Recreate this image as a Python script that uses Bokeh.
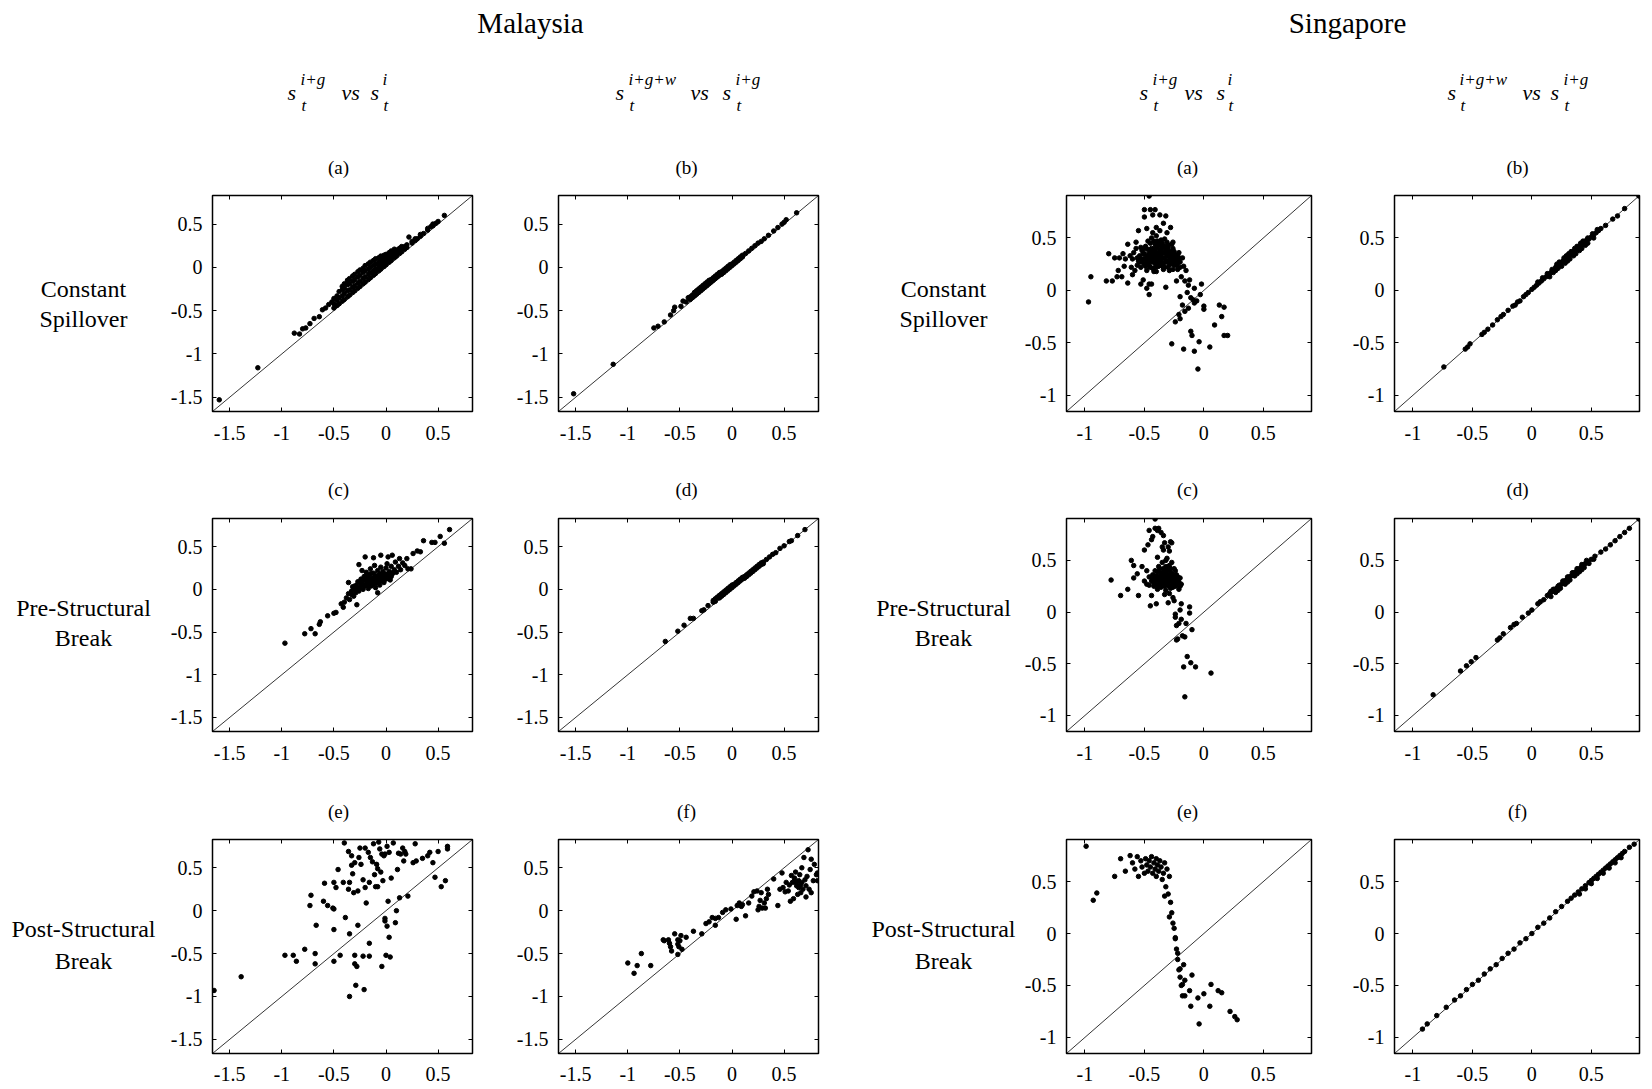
from bokeh.plotting import figure
from bokeh.layouts import column, row
from bokeh.models import Range1d, FixedTicker, CustomJSTickFormatter, Slope, LinearAxis
from bokeh.core.properties import value
from bokeh.embed import file_html
from bokeh.resources import INLINE

# ---------------- data ----------------
COUNTRIES = ["Malaysia", "Singapore"]
ROW_LABELS = [["Constant", "Spillover"], ["Pre-Structural", "Break"], ["Post-Structural", "Break"]]
LETTERS = [["(a)", "(b)"], ["(c)", "(d)"], ["(e)", "(f)"]]
SUP_A = ["i+g", "i"]
SUP_B = ["i+g+w", "i+g"]
MY_TICKS = [-1.5, -1, -0.5, 0, 0.5]
SG_TICKS = [-1, -0.5, 0, 0.5]
MY_RANGE = (-1.665, 0.83)
SG_RANGE = (-1.155, 0.905)

MY_A = [(-1.60,-1.53),(-1.23,-1.16),(-0.88,-0.76),(-0.83,-0.77),(-0.80,-0.71),(-0.77,-0.70),(-0.73,-0.65),(-0.69,-0.59),(-0.64,-0.57),(-0.61,-0.49),(-0.58,-0.47),(-0.55,-0.43),(-0.52,-0.40),
(-0.50,-0.47),(-0.50,-0.42),(-0.50,-0.36),(-0.47,-0.44),(-0.47,-0.38),(-0.47,-0.33),(-0.45,-0.42),(-0.45,-0.35),(-0.45,-0.28),
(-0.42,-0.39),(-0.42,-0.33),(-0.42,-0.26),(-0.42,-0.22),(-0.40,-0.37),(-0.40,-0.30),(-0.40,-0.24),(-0.40,-0.19),
(-0.37,-0.34),(-0.37,-0.27),(-0.37,-0.20),(-0.37,-0.15),(-0.35,-0.32),(-0.35,-0.26),(-0.35,-0.19),(-0.35,-0.13),
(-0.32,-0.29),(-0.32,-0.23),(-0.32,-0.16),(-0.32,-0.10),(-0.30,-0.27),(-0.30,-0.21),(-0.30,-0.14),(-0.30,-0.08),
(-0.27,-0.24),(-0.27,-0.18),(-0.27,-0.11),(-0.27,-0.05),(-0.25,-0.22),(-0.25,-0.16),(-0.25,-0.09),(-0.25,-0.03),
(-0.22,-0.19),(-0.22,-0.13),(-0.22,-0.06),(-0.22,-0.01),(-0.20,-0.17),(-0.20,-0.11),(-0.20,-0.04),(-0.20,0.02),
(-0.17,-0.14),(-0.17,-0.08),(-0.17,-0.02),(-0.17,0.04),(-0.15,-0.12),(-0.15,-0.06),(-0.15,0.00),(-0.15,0.06),
(-0.12,-0.09),(-0.12,-0.04),(-0.12,0.02),(-0.12,0.08),(-0.10,-0.07),(-0.10,-0.02),(-0.10,0.04),(-0.10,0.10),
(-0.07,-0.04),(-0.07,0.01),(-0.07,0.06),(-0.07,0.11),(-0.05,-0.02),(-0.05,0.03),(-0.05,0.08),(-0.05,0.13),
(-0.02,0.01),(-0.02,0.05),(-0.02,0.10),(-0.02,0.14),(0.00,0.03),(0.00,0.07),(0.00,0.11),(0.00,0.15),
(0.03,0.06),(0.03,0.10),(0.03,0.14),(0.03,0.17),(0.05,0.08),(0.05,0.12),(0.05,0.16),(0.05,0.19),
(0.08,0.11),(0.08,0.14),(0.08,0.18),(0.08,0.21),(0.10,0.13),(0.10,0.16),(0.10,0.20),
(0.13,0.16),(0.13,0.19),(0.13,0.22),(0.15,0.18),(0.15,0.21),(0.15,0.24),
(0.18,0.21),(0.18,0.24),(0.20,0.23),(0.20,0.26),(0.22,0.35),
(0.25,0.28),(0.25,0.30),(0.28,0.31),(0.28,0.33),(0.30,0.33),(0.33,0.36),(0.33,0.38),(0.36,0.39),
(0.40,0.43),(0.40,0.45),(0.43,0.47),(0.45,0.48),(0.45,0.50),(0.48,0.51),(0.50,0.53),(0.56,0.60)]

MY_B = [(-1.52,-1.46),(-1.14,-1.12),(-0.75,-0.70),(-0.71,-0.68),(-0.65,-0.63),(-0.59,-0.55),(-0.56,-0.50),(-0.55,-0.46),(-0.49,-0.45),(-0.47,-0.39),(-0.44,-0.40),(-0.42,-0.35),
(-0.40,-0.34),(-0.40,-0.37),(-0.38,-0.32),(-0.38,-0.35),(-0.36,-0.29),(-0.36,-0.33),(-0.34,-0.27),(-0.34,-0.31),(-0.32,-0.25),(-0.32,-0.29),(-0.30,-0.23),(-0.30,-0.27),
(-0.28,-0.21),(-0.28,-0.25),(-0.26,-0.19),(-0.26,-0.23),(-0.24,-0.17),(-0.24,-0.21),(-0.22,-0.15),(-0.22,-0.19),(-0.20,-0.14),(-0.20,-0.17),(-0.18,-0.12),(-0.18,-0.15),
(-0.16,-0.10),(-0.16,-0.13),(-0.14,-0.08),(-0.14,-0.11),(-0.12,-0.06),(-0.12,-0.09),(-0.10,-0.05),(-0.10,-0.08),(-0.08,-0.03),(-0.08,-0.06),(-0.06,-0.01),(-0.06,-0.04),
(-0.04,0.01),(-0.04,-0.02),(-0.02,0.03),(-0.02,0.00),(0.00,0.04),(0.00,0.02),(0.02,0.06),(0.02,0.04),(0.04,0.08),(0.04,0.06),(0.06,0.10),(0.06,0.08),(0.08,0.12),(0.08,0.10),
(0.10,0.14),(0.10,0.12),(0.13,0.16),(0.16,0.19),(0.19,0.22),(0.22,0.25),(0.25,0.28),(0.28,0.30),(0.31,0.33),(0.35,0.37),(0.40,0.42),(0.44,0.46),(0.48,0.50),(0.50,0.52),(0.52,0.55),(0.62,0.63)]

MY_C = [(-0.97,-0.63),(-0.78,-0.52),(-0.72,-0.46),(-0.68,-0.52),(-0.64,-0.41),(-0.63,-0.38),(-0.56,-0.31),(-0.50,-0.28),(-0.48,-0.27),(-0.43,-0.17),(-0.41,-0.21),
(-0.40,-0.15),(-0.38,-0.10),(-0.36,-0.05),(-0.35,-0.12),(-0.33,-0.02),(-0.32,0.03),(-0.31,-0.08),(-0.30,0.00),(-0.29,-0.04),(-0.28,0.05),(-0.27,0.09),(-0.26,-0.02),
(-0.25,0.02),(-0.24,0.12),(-0.23,0.06),(-0.22,0.00),(-0.21,0.15),(-0.20,0.10),(-0.20,0.04),(-0.19,0.20),(-0.18,0.07),(-0.17,0.13),(-0.17,0.01),(-0.16,0.17),
(-0.15,0.09),(-0.15,0.24),(-0.14,0.04),(-0.13,0.13),(-0.12,0.19),(-0.12,0.07),(-0.11,0.28),(-0.10,0.11),(-0.10,0.02),(-0.09,0.16),(-0.08,0.22),(-0.08,0.08),
(-0.07,0.13),(-0.06,0.18),(-0.06,0.05),(-0.05,0.26),(-0.04,0.11),(-0.03,0.15),(-0.03,0.21),(-0.02,0.08),(-0.01,0.18),(0.00,0.12),(0.00,0.25),(0.01,0.30),
(0.02,0.16),(0.03,0.21),(0.04,0.11),(0.05,0.27),(0.06,0.18),(0.08,0.23),(0.09,0.32),(0.10,0.20),(0.12,0.27),(0.14,0.23),(0.16,0.31),(0.18,0.28),(0.20,0.36),(0.21,0.24),
(-0.20,0.38),(-0.12,0.37),(-0.05,0.40),(0.02,0.38),(0.06,0.40),(0.13,0.36),(-0.26,0.29),(-0.23,0.22),(-0.36,0.08),(-0.28,-0.18),(-0.33,-0.06),(-0.08,-0.04),
(-0.30,0.04),(-0.27,0.01),(-0.24,0.07),(-0.21,0.05),(-0.18,0.11),(-0.16,0.05),(-0.14,0.12),(-0.13,0.07),(-0.11,0.14),(-0.10,0.07),(-0.09,0.12),(-0.07,0.09),
(-0.06,0.15),(-0.05,0.10),(-0.04,0.17),(-0.02,0.12),(0.00,0.17),(0.02,0.13),(0.03,0.18),(0.05,0.15),(0.07,0.20),(-0.19,0.15),(-0.23,0.10),(-0.14,0.19),
(0.24,0.24),(0.30,0.45),(0.26,0.42),(0.33,0.44),(0.36,0.57),(0.44,0.55),(0.47,0.55),(0.52,0.62),(0.56,0.54),(0.61,0.70)]

MY_D = [(-0.64,-0.61),(-0.52,-0.49),(-0.46,-0.42),(-0.40,-0.34),(-0.37,-0.34),(-0.29,-0.25),(-0.27,-0.24),(-0.23,-0.19),
(-0.18,-0.13),(-0.18,-0.15),(-0.16,-0.11),(-0.16,-0.14),(-0.14,-0.09),(-0.12,-0.07),(-0.12,-0.10),(-0.10,-0.05),(-0.10,-0.08),(-0.08,-0.03),(-0.08,-0.06),
(-0.06,-0.01),(-0.06,-0.04),(-0.04,0.01),(-0.04,-0.02),(-0.02,0.03),(-0.02,0.00),(0.00,0.05),(0.00,0.02),(0.02,0.06),(0.02,0.04),(0.04,0.08),(0.04,0.06),
(0.06,0.10),(0.06,0.08),(0.08,0.12),(0.08,0.10),(0.10,0.14),(0.10,0.12),(0.12,0.15),(0.12,0.13),(0.14,0.17),(0.14,0.15),(0.16,0.19),(0.16,0.17),
(0.18,0.21),(0.18,0.19),(0.20,0.23),(0.20,0.21),(0.22,0.25),(0.22,0.23),(0.24,0.27),(0.24,0.25),(0.26,0.29),(0.26,0.27),(0.28,0.31),(0.28,0.29),
(0.30,0.32),(0.30,0.30),(0.33,0.35),(0.36,0.38),(0.39,0.41),(0.42,0.43),(0.46,0.48),(0.50,0.51),(0.55,0.56),(0.57,0.57),(0.63,0.63),(0.70,0.70)]

MY_E = [(-1.39,-0.77),(-1.65,-0.93),(-0.97,-0.52),(-0.89,-0.52),(-0.86,-0.59),(-0.78,-0.45),(-0.68,-0.50),(-0.68,-0.62),(-0.72,0.18),(-0.73,0.06),
(-0.67,-0.17),(-0.60,0.11),(-0.59,0.32),(-0.56,0.06),(-0.51,0.03),(-0.50,0.02),(-0.50,-0.22),(-0.50,-0.59),(-0.50,0.33),(-0.48,0.27),(-0.46,0.48),
(-0.44,-0.52),(-0.41,0.33),(-0.40,0.79),(-0.39,-0.08),(-0.36,0.25),(-0.36,0.69),(-0.35,0.33),(-0.35,-0.27),(-0.35,-1.00),(-0.33,0.64),(-0.33,0.53),
(-0.32,0.43),(-0.31,0.21),(-0.30,0.56),(-0.30,-0.52),(-0.30,-0.62),(-0.28,-0.65),(-0.29,-0.87),(-0.27,-0.17),(-0.27,0.23),(-0.26,0.62),(-0.25,0.73),
(-0.24,0.54),(-0.22,0.36),(-0.22,-0.53),(-0.21,-0.92),(-0.20,0.73),(-0.20,0.27),(-0.19,0.09),(-0.17,0.68),(-0.16,-0.38),(-0.16,-0.53),(-0.16,0.33),
(-0.15,0.62),(-0.13,0.57),(-0.12,0.78),(-0.11,0.42),(-0.10,0.28),(-0.09,0.54),(-0.08,0.28),(-0.08,0.49),(-0.07,0.80),(-0.06,0.72),(-0.05,0.45),
(-0.04,-0.65),(-0.04,0.66),(-0.03,0.35),(-0.02,0.64),(-0.01,-0.09),(-0.01,-0.12),(-0.01,0.66),(0.00,-0.52),(0.01,-0.18),(0.01,0.75),(0.02,0.11),
(0.03,-0.31),(0.03,0.68),(0.04,-0.54),(0.05,0.38),(0.07,0.79),(0.09,-0.14),(0.10,0.00),(0.11,0.48),(0.12,0.67),(0.13,0.15),(0.14,0.66),(0.16,0.73),
(0.17,0.58),(0.18,0.69),(0.19,0.66),(0.21,0.17),(0.26,0.56),(0.28,0.78),(0.29,0.58),(0.35,0.61),(0.40,0.64),(0.42,0.68),(0.45,0.56),(0.47,0.39),
(0.50,0.69),(0.53,0.28),(0.57,0.35),(0.59,0.75),(0.59,0.72)]

MY_F = [(-1.00,-0.61),(-0.94,-0.73),(-0.91,-0.64),(-0.87,-0.50),(-0.78,-0.64),(-0.66,-0.34),(-0.65,-0.35),(-0.61,-0.34),(-0.60,-0.38),(-0.59,-0.42),(-0.58,-0.47),
(-0.55,-0.27),(-0.52,-0.34),(-0.52,-0.39),(-0.51,-0.42),(-0.52,-0.51),(-0.50,-0.35),(-0.49,-0.29),(-0.48,-0.45),(-0.44,-0.31),(-0.37,-0.24),(-0.29,-0.27),
(-0.25,-0.15),(-0.22,-0.13),(-0.19,-0.08),(-0.16,-0.09),(-0.16,-0.17),(-0.13,-0.08),(-0.09,-0.02),(-0.06,0.01),(-0.01,0.02),(0.04,-0.10),(0.05,0.06),
(0.07,0.09),(0.09,0.05),(0.10,0.07),(0.13,-0.06),(0.16,0.09),(0.19,0.17),(0.21,0.22),(0.24,0.23),(0.25,0.01),(0.26,0.05),(0.27,0.12),(0.28,0.21),
(0.29,0.03),(0.31,0.09),(0.32,0.03),(0.33,0.14),(0.34,0.25),(0.35,0.19),(0.40,0.37),(0.44,0.06),(0.46,0.25),(0.48,0.44),(0.49,0.27),(0.51,0.22),
(0.52,0.33),(0.54,0.23),(0.56,0.11),(0.57,0.41),(0.59,0.14),(0.60,0.35),(0.60,0.38),(0.61,0.45),(0.62,0.29),(0.63,0.19),(0.64,0.35),(0.64,0.27),
(0.65,0.42),(0.66,0.21),(0.67,0.33),(0.67,0.50),(0.68,0.25),(0.69,0.62),(0.70,0.36),(0.71,0.16),(0.71,0.29),(0.72,0.40),(0.73,0.71),(0.74,0.25),
(0.75,0.48),(0.76,0.60),(0.76,0.21),(0.78,0.35),(0.79,0.54),(0.81,0.42),(0.82,0.35),(0.82,0.44),(0.55,0.30),(0.58,0.33),(0.62,0.32),(0.66,0.30)]

SG_A = [(-0.97,-0.11),(-0.95,0.13),(-0.82,0.09),(-0.80,0.35),(-0.77,0.09),(-0.75,0.31),(-0.73,0.13),(-0.72,0.19),(-0.71,0.31),(-0.69,0.13),(-0.68,0.35),
(-0.67,0.23),(-0.66,0.30),(-0.64,0.07),(-0.64,0.44),(-0.62,0.33),(-0.61,0.22),(-0.60,0.15),(-0.59,0.36),(-0.58,0.19),(-0.57,0.46),(-0.56,0.31),(-0.55,0.57),
(-0.54,0.27),(-0.53,0.41),(-0.53,0.06),(-0.51,0.10),(-0.50,0.70),(-0.50,0.77),(-0.49,0.23),(-0.48,0.59),(-0.48,0.02),(-0.47,0.47),(-0.46,0.06),(-0.46,0.90),
(-0.46,-0.04),(-0.45,0.77),(-0.44,0.31),(-0.44,0.06),(-0.43,0.72),(-0.43,0.55),(-0.42,0.18),(-0.41,0.39),(-0.41,0.77),(-0.40,0.60),(-0.39,0.23),(-0.39,0.47),
(-0.38,0.33),(-0.37,0.72),(-0.37,0.57),(-0.36,0.28),(-0.35,0.43),(-0.34,0.64),(-0.34,0.22),(-0.33,0.49),(-0.32,0.36),(-0.32,0.71),(-0.32,0.03),(-0.31,0.55),
(-0.30,0.27),(-0.30,0.41),(-0.29,0.19),(-0.28,0.60),(-0.27,0.31),(-0.27,-0.51),(-0.26,0.46),(-0.25,0.25),(-0.25,0.37),(-0.24,-0.30),(-0.23,0.09),(-0.22,0.20),
(-0.22,0.33),(-0.21,-0.23),(-0.20,0.27),(-0.20,-0.27),(-0.20,-0.06),(-0.19,0.13),(-0.18,0.31),(-0.18,-0.14),(-0.17,-0.56),(-0.17,0.23),(-0.16,0.09),
(-0.16,-0.20),(-0.15,0.19),(-0.14,-0.02),(-0.13,0.05),(-0.13,-0.17),(-0.12,0.10),(-0.11,-0.07),(-0.11,-0.39),(-0.10,-0.43),(-0.09,-0.09),(-0.08,0.02),
(-0.08,-0.58),(-0.08,-0.12),(-0.06,-0.10),(-0.05,-0.75),(-0.04,-0.49),(-0.03,-0.04),(-0.02,0.06),(0.00,-0.18),(0.00,-0.15),(0.05,-0.54),(0.09,-0.33),
(0.13,-0.14),(0.15,-0.25),(0.17,-0.16),(0.17,-0.43),(0.20,-0.43),
(-0.55,0.28),(-0.54,0.33),(-0.53,0.22),(-0.52,0.38),(-0.51,0.30),(-0.50,0.25),(-0.50,0.35),(-0.49,0.42),(-0.48,0.19),(-0.48,0.29),(-0.47,0.33),(-0.46,0.24),
(-0.45,0.38),(-0.45,0.45),(-0.44,0.28),(-0.43,0.21),(-0.43,0.34),(-0.42,0.40),(-0.41,0.26),(-0.40,0.31),(-0.40,0.18),(-0.39,0.36),(-0.38,0.44),(-0.38,0.23),
(-0.37,0.29),(-0.36,0.34),(-0.36,0.39),(-0.35,0.25),(-0.34,0.20),(-0.34,0.31),(-0.33,0.42),(-0.33,0.36),(-0.32,0.27),(-0.31,0.33),(-0.30,0.22),(-0.30,0.38),
(-0.29,0.29),(-0.28,0.35),(-0.28,0.25),(-0.27,0.31),(-0.26,0.20),(-0.26,0.40),(-0.25,0.28),(-0.24,0.34),(-0.23,0.24),(-0.22,0.30),(-0.21,0.36),(-0.20,0.22),
(-0.44,0.50),(-0.40,0.52),(-0.36,0.48),(-0.31,0.46),(-0.27,0.44),(-0.57,0.40),(-0.60,0.30),
(-0.56,0.24),(-0.53,0.30),(-0.52,0.27),(-0.51,0.35),(-0.49,0.26),(-0.49,0.31),(-0.47,0.27),(-0.47,0.39),(-0.46,0.30),(-0.46,0.35),(-0.45,0.22),(-0.44,0.33),
(-0.44,0.40),(-0.43,0.27),(-0.42,0.31),(-0.42,0.36),(-0.41,0.22),(-0.41,0.44),(-0.40,0.27),(-0.40,0.35),(-0.39,0.30),(-0.39,0.41),(-0.38,0.27),(-0.38,0.33),
(-0.37,0.38),(-0.37,0.24),(-0.36,0.30),(-0.35,0.36),(-0.35,0.41),(-0.34,0.26),(-0.33,0.31),(-0.33,0.22),(-0.32,0.39),(-0.31,0.28),(-0.30,0.33),(-0.29,0.25),
(-0.29,0.37),(-0.28,0.30),(-0.27,0.27),(-0.27,0.36),(-0.26,0.32),(-0.25,0.24),(-0.24,0.29),(-0.23,0.33),(-0.22,0.26),(-0.21,0.31),(-0.50,0.40),(-0.42,0.47),
(-0.35,0.45),(-0.30,0.43)]

SG_B = [(-0.74,-0.73),(-0.56,-0.56),(-0.54,-0.54),(-0.52,-0.51),(-0.42,-0.42),(-0.40,-0.40),(-0.37,-0.37),(-0.33,-0.33),(-0.29,-0.28),(-0.26,-0.25),(-0.24,-0.23),
(-0.20,-0.19),(-0.16,-0.15),(-0.14,-0.14),(-0.12,-0.11),(-0.10,-0.10),(-0.07,-0.06),(-0.05,-0.04),(-0.03,-0.02),(0.00,0.01),(0.02,0.03),(0.04,0.05),(0.06,0.07),
(0.08,0.09),(0.10,0.11),(0.12,0.13),(0.14,0.15),(0.16,0.17),(0.18,0.19),(0.20,0.22),(0.22,0.24),(0.24,0.26),(0.26,0.28),(0.28,0.30),(0.30,0.32),(0.32,0.34),
(0.34,0.36),(0.36,0.38),(0.38,0.40),(0.40,0.42),(0.42,0.44),(0.44,0.46),(0.46,0.48),(0.48,0.49),(0.50,0.51),(0.52,0.53),(0.54,0.55),(0.56,0.57),(0.58,0.59),
(0.62,0.62),(0.68,0.68),(0.72,0.71),(0.78,0.78),(0.90,0.90),(0.15,0.13),(0.20,0.19),(0.25,0.23),(0.30,0.28),(0.35,0.33),(0.40,0.38),(0.45,0.43),
(0.27,0.31),(0.33,0.37),(0.38,0.42),
(0.05,0.08),(0.09,0.12),(0.13,0.16),(0.17,0.20),(0.21,0.25),(0.23,0.27),(0.29,0.33),(0.31,0.35),(0.36,0.40),(0.41,0.45),(0.43,0.47),(0.47,0.50),
(0.51,0.54),(0.55,0.58),(0.18,0.17),(0.22,0.21),(0.28,0.26),(0.32,0.30),(0.37,0.35),(0.42,0.40),(0.47,0.45),(0.52,0.50)]

SG_C = [(-0.78,0.31),(-0.70,0.16),(-0.64,0.22),(-0.61,0.50),(-0.59,0.45),(-0.59,0.33),(-0.56,0.37),(-0.55,0.16),(-0.52,0.44),(-0.50,0.30),(-0.50,0.60),
(-0.48,0.40),(-0.47,0.65),(-0.46,0.26),(-0.46,0.79),(-0.45,0.06),(-0.44,0.16),(-0.44,0.70),(-0.43,0.73),(-0.41,0.81),(-0.41,0.90),(-0.40,0.08),(-0.39,0.53),
(-0.39,0.79),(-0.38,0.81),(-0.36,0.77),(-0.35,0.63),(-0.34,0.60),(-0.34,0.74),(-0.33,0.67),(-0.32,0.50),(-0.31,0.41),(-0.30,0.09),(-0.30,0.63),(-0.29,0.59),
(-0.28,0.68),(-0.27,0.67),(-0.26,0.14),(-0.25,0.26),(-0.25,0.11),(-0.24,-0.02),(-0.24,-0.05),(-0.23,-0.13),(-0.23,-0.27),(-0.22,-0.26),(-0.21,-0.11),
(-0.20,0.02),(-0.19,-0.07),(-0.19,0.08),(-0.18,-0.23),(-0.17,-0.53),(-0.16,-0.82),(-0.16,-0.24),(-0.15,-0.11),(-0.14,-0.43),(-0.12,0.05),(-0.12,-0.01),
(-0.11,-0.49),(-0.10,-0.17),(-0.07,-0.53),(0.06,-0.59),
(-0.44,0.30),(-0.43,0.36),(-0.42,0.25),(-0.41,0.40),(-0.40,0.31),(-0.39,0.22),(-0.39,0.35),(-0.38,0.44),(-0.37,0.28),(-0.36,0.38),(-0.36,0.24),(-0.35,0.32),
(-0.34,0.42),(-0.34,0.27),(-0.33,0.36),(-0.32,0.21),(-0.32,0.30),(-0.31,0.40),(-0.30,0.34),(-0.30,0.26),(-0.29,0.45),(-0.28,0.31),(-0.28,0.23),(-0.27,0.37),
(-0.26,0.28),(-0.25,0.42),(-0.25,0.33),(-0.24,0.25),(-0.23,0.36),(-0.22,0.30),(-0.21,0.22),(-0.20,0.33),(-0.19,0.27),(-0.46,0.34),(-0.48,0.27),(-0.35,0.48),
(-0.31,0.52),(-0.27,0.48),(-0.33,0.17),(-0.29,0.18),
(-0.43,0.32),(-0.42,0.28),(-0.41,0.35),(-0.40,0.27),(-0.39,0.39),(-0.38,0.31),(-0.38,0.25),(-0.37,0.34),(-0.36,0.29),(-0.35,0.36),(-0.35,0.28),(-0.34,0.32),
(-0.33,0.25),(-0.33,0.39),(-0.32,0.34),(-0.31,0.28),(-0.31,0.36),(-0.30,0.30),(-0.29,0.33),(-0.29,0.25),(-0.28,0.38),(-0.27,0.29),(-0.27,0.33),(-0.26,0.24),
(-0.26,0.36),(-0.25,0.29),(-0.24,0.32),(-0.23,0.27),(-0.22,0.34),(-0.21,0.29),(-0.20,0.25),(-0.37,0.42),(-0.32,0.44),(-0.28,0.42),(-0.24,0.40)]

SG_D = [(-0.83,-0.80),(-0.60,-0.57),(-0.55,-0.52),(-0.51,-0.48),(-0.47,-0.44),(-0.29,-0.27),(-0.27,-0.25),(-0.24,-0.21),(-0.18,-0.15),(-0.15,-0.12),(-0.13,-0.11),
(-0.08,-0.05),(-0.03,-0.01),(0.00,0.02),(0.05,0.08),(0.07,0.10),(0.10,0.12),(0.13,0.16),(0.15,0.18),(0.17,0.20),(0.19,0.22),(0.21,0.23),(0.23,0.26),(0.25,0.27),
(0.27,0.30),(0.29,0.31),(0.31,0.34),(0.33,0.35),(0.35,0.38),(0.37,0.39),(0.39,0.41),(0.41,0.43),(0.43,0.45),(0.45,0.47),(0.47,0.49),(0.50,0.51),(0.53,0.54),
(0.58,0.58),(0.62,0.61),(0.66,0.65),(0.70,0.69),(0.74,0.73),(0.78,0.77),(0.82,0.81),(0.90,0.90),(0.20,0.19),(0.24,0.23),(0.28,0.27),(0.32,0.31),(0.36,0.35),
(0.40,0.39),(0.44,0.43),(0.26,0.30),(0.34,0.38),
(0.16,0.20),(0.18,0.22),(0.22,0.25),(0.30,0.34),(0.38,0.42),(0.42,0.46),(0.46,0.50),(0.16,0.15),(0.22,0.21),(0.30,0.29),(0.38,0.37),(0.42,0.41),
(0.48,0.47),(0.52,0.51)]

SG_E = [(-0.99,0.84),(-0.93,0.32),(-0.90,0.39),(-0.75,0.55),(-0.70,0.72),(-0.66,0.60),(-0.62,0.75),(-0.60,0.68),(-0.58,0.62),(-0.56,0.74),(-0.55,0.55),
(-0.53,0.70),(-0.52,0.64),(-0.50,0.58),(-0.49,0.72),(-0.48,0.66),(-0.47,0.60),(-0.46,0.70),(-0.45,0.64),(-0.44,0.74),(-0.43,0.58),(-0.42,0.68),(-0.41,0.62),
(-0.40,0.72),(-0.40,0.55),(-0.39,0.66),(-0.38,0.60),(-0.37,0.70),(-0.36,0.64),(-0.35,0.52),(-0.34,0.58),(-0.33,0.68),(-0.33,0.36),(-0.32,0.45),(-0.31,0.62),
(-0.30,0.38),(-0.29,0.55),(-0.29,0.16),(-0.28,0.30),(-0.27,0.20),(-0.26,0.10),(-0.25,0.05),(-0.24,-0.04),(-0.24,-0.05),(-0.23,-0.15),(-0.22,-0.19),
(-0.22,-0.25),(-0.20,-0.34),(-0.21,-0.35),(-0.20,-0.42),(-0.18,-0.49),(-0.19,-0.50),(-0.18,-0.60),(-0.17,-0.30),(-0.16,-0.45),(-0.16,-0.60),(-0.11,-0.70),
(-0.12,-0.55),(-0.10,-0.40),(-0.04,-0.87),(-0.05,-0.62),(0.00,-0.58),(0.06,-0.49),(0.05,-0.70),(0.12,-0.55),(0.15,-0.57),(0.22,-0.75),(0.26,-0.80),(0.28,-0.83)]

SG_F = [(-0.92,-0.92),(-0.88,-0.87),(-0.80,-0.79),(-0.72,-0.71),(-0.65,-0.64),(-0.60,-0.60),(-0.55,-0.54),(-0.50,-0.49),(-0.45,-0.45),(-0.40,-0.39),(-0.35,-0.34),
(-0.30,-0.30),(-0.25,-0.24),(-0.20,-0.19),(-0.15,-0.15),(-0.10,-0.09),(-0.05,-0.05),(0.00,0.00),(0.05,0.06),(0.10,0.10),(0.15,0.15),(0.20,0.21),(0.25,0.26),
(0.30,0.31),(0.33,0.34),(0.36,0.37),(0.39,0.40),(0.42,0.43),(0.45,0.46),(0.48,0.49),(0.50,0.51),(0.52,0.53),(0.54,0.55),(0.56,0.57),(0.58,0.59),(0.60,0.61),
(0.62,0.63),(0.64,0.65),(0.66,0.67),(0.68,0.69),(0.70,0.71),(0.72,0.73),(0.74,0.75),(0.76,0.77),(0.78,0.79),(0.82,0.83),(0.86,0.86),(0.40,0.38),(0.45,0.43),
(0.50,0.48),(0.55,0.53),(0.60,0.58),(0.65,0.63),(0.70,0.68),(0.75,0.73)]

PANELS = [[MY_A, MY_B, SG_A, SG_B], [MY_C, MY_D, SG_C, SG_D], [MY_E, MY_F, SG_E, SG_F]]

# ---------------- layout ----------------
SERIF = "Liberation Serif"
TOTAL_W = 1650
HEADER = (0, 150)
LETTER_ROWS = [(150, 185), (470, 505), (790, 826)]
ROWS = [(185, 470), (505, 790), (826, 1089)]
TOP = [10, 13, 13]
BOTTOM = [59, 59, 36]
X_STANDOFF = [14, 14, 13]
COLS = [(346, 50, 36), (352, 50, 42), (328, 50, 33), (306, 50, 11)]  # fig width, left, right border
LEFT_LABEL_W = 162
MID_LABEL_W = 156
COL_CENTERS = [338, 686, 1187, 1517]
ROW_LABEL_X = [83, 943]
ROW_LABEL_Y = [(288, 318), (607, 637), (928, 960)]
LETTER_Y = [167, 489, 811]


def text_fig(x0, x1, ytop, ybot, btop=0, bbot=0):
    f = figure(width=x1 - x0, height=ybot - ytop + btop + bbot, x_range=Range1d(x0, x1),
               y_range=Range1d(ybot, ytop),
               output_backend="svg", toolbar_location=None, tools="", title=None,
               x_axis_location=None, y_axis_location=None, outline_line_color=None,
               min_border_left=0, min_border_right=0, min_border_top=btop, min_border_bottom=bbot)
    f.grid.visible = False
    return f


def txt(f, xs, ys, texts, size, style="normal", align="center"):
    f.text(x=xs, y=ys, text=texts, text_font=value(SERIF), text_font_size=size,
           text_font_style=style, text_align=align, text_baseline="middle", text_color="black")


def panel(pts, rng, ticks, col, ri):
    fw, bl, br = col
    h = ROWS[ri][1] - ROWS[ri][0]
    p = figure(width=fw, height=h, x_range=Range1d(*rng), y_range=Range1d(*rng),
               output_backend="svg", toolbar_location=None, tools="", title=None,
               min_border_left=bl, min_border_right=br, min_border_top=TOP[ri], min_border_bottom=BOTTOM[ri])
    p.grid.visible = False
    p.outline_line_color = "black"
    p.outline_line_width = 1.5
    fmt = CustomJSTickFormatter(code="return tick.toString();")
    for ax in (p.xaxis[0], p.yaxis[0]):
        ax.ticker = FixedTicker(ticks=ticks)
        ax.formatter = fmt
        ax.major_label_text_font = SERIF
        ax.major_label_text_font_size = "20px"
        ax.major_label_text_color = "black"
        ax.major_tick_in = 4
        ax.major_tick_out = 0
        ax.minor_tick_in = 0
        ax.minor_tick_out = 0
        ax.axis_line_color = "black"
        ax.major_tick_line_color = "black"
    p.xaxis[0].major_label_standoff = X_STANDOFF[ri]
    p.yaxis[0].major_label_standoff = 10
    # inner tick marks on the top and right edges (no labels)
    blank = CustomJSTickFormatter(code="return '';")
    for loc in ("above", "right"):
        ax = LinearAxis(ticker=FixedTicker(ticks=ticks), formatter=blank,
                        major_label_text_font_size="7px", major_label_standoff=0,
                        major_tick_in=4, major_tick_out=0, minor_tick_in=0, minor_tick_out=0,
                        axis_line_color="black", major_tick_line_color="black")
        p.add_layout(ax, loc)
    p.add_layout(Slope(gradient=1, y_intercept=0, line_color="black", line_width=0.8))
    xs = [a for a, b in pts]
    ys = [b for a, b in pts]
    p.scatter(xs, ys, size=4.5, color="black", marker="circle")
    return p


# header
H = text_fig(0, TOTAL_W, HEADER[0], HEADER[1])
txt(H, [530, 1347], [22, 22], COUNTRIES, "29px")
FORM = [  # s, sup, vs, s2, sup2
    (287, 300, 341, 370, 382, SUP_A),
    (615, 628, 690, 722, 735, SUP_B),
    (1139, 1152, 1184, 1216, 1227, SUP_A),
    (1447, 1459, 1522, 1550, 1563, SUP_B)]
for s1, su1, vs, s2, su2, sups in FORM:
    txt(H, [s1, vs, s2], [92, 92, 92], ["s", "vs", "s"], "22px", "italic", "left")
    txt(H, [su1, su2], [79, 79], sups, "17px", "italic", "left")
    txt(H, [su1 + 1, su2 + 1], [105, 105], ["t", "t"], "17px", "italic", "left")

children = [H]
for ri in range(3):
    lt, lb = LETTER_ROWS[ri]
    L = text_fig(0, TOTAL_W, lt, lb)
    txt(L, COL_CENTERS, [LETTER_Y[ri]] * 4, LETTERS[ri] * 2, "19px")
    children.append(L)

    # row-label figures share the panel frame's vertical extent
    ytop, ybot = ROWS[ri]
    ftop = ytop + TOP[ri]
    fbot = ybot - BOTTOM[ri]
    left = text_fig(0, LEFT_LABEL_W, ftop, fbot, TOP[ri], BOTTOM[ri])
    txt(left, [ROW_LABEL_X[0]] * 2, list(ROW_LABEL_Y[ri]), ROW_LABELS[ri], "24px")
    xm = LEFT_LABEL_W + COLS[0][0] + COLS[1][0]
    mid = text_fig(xm, xm + MID_LABEL_W, ftop, fbot, TOP[ri], BOTTOM[ri])
    txt(mid, [ROW_LABEL_X[1]] * 2, list(ROW_LABEL_Y[ri]), ROW_LABELS[ri], "24px")
    figs = []
    for ci in range(4):
        rng = MY_RANGE if ci < 2 else SG_RANGE
        ticks = MY_TICKS if ci < 2 else SG_TICKS
        figs.append(panel(PANELS[ri][ci], rng, ticks, COLS[ci], ri))
    children.append(row(left, figs[0], figs[1], mid, figs[2], figs[3], spacing=0))

layout = column(*children, spacing=0)
open("out.html", "w").write(file_html(layout, INLINE))
